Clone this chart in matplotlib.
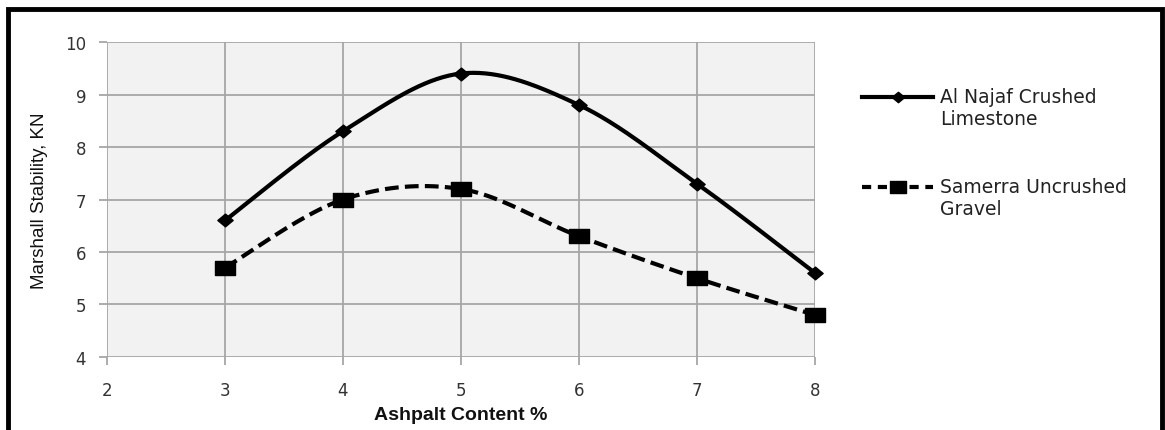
import numpy as np
import matplotlib
matplotlib.use("Agg")
import matplotlib.pyplot as plt
from matplotlib.patches import Rectangle
from matplotlib.lines import Line2D
from matplotlib.path import Path

asphalt = [3, 4, 5, 6, 7, 8]
najaf = [6.6, 8.3, 9.4, 8.8, 7.3, 5.6]
samerra = [5.7, 7.0, 7.2, 6.3, 5.5, 4.8]
labels = ["Al Najaf Crushed\nLimestone", "Samerra Uncrushed\nGravel"]
xticks = [2, 3, 4, 5, 6, 7, 8]
yticks = [4, 5, 6, 7, 8, 9, 10]


def smooth(x, y, n=40):
    """Excel-style smoothed line (Catmull-Rom Bezier, tension 1/6)."""
    x = np.asarray(x, float)
    y = np.asarray(y, float)
    P = np.column_stack([x, y])
    pts = []
    for i in range(len(P) - 1):
        p0 = P[i - 1] if i > 0 else P[i]
        p1 = P[i]
        p2 = P[i + 1]
        p3 = P[i + 2] if i + 2 < len(P) else P[i + 1]
        c1 = p1 + (p2 - p0) / 6.0
        c2 = p2 - (p3 - p1) / 6.0
        t = np.linspace(0, 1, n)[:, None]
        seg = ((1 - t) ** 3) * p1 + 3 * ((1 - t) ** 2) * t * c1 + 3 * (1 - t) * t ** 2 * c2 + t ** 3 * p2
        if i > 0:
            seg = seg[1:]
        pts.append(seg)
    pts = np.vstack(pts)
    return pts[:, 0], pts[:, 1]


# slightly wide markers (the original is horizontally stretched)
wide_sq = Path([(-1.35, -1), (1.35, -1), (1.35, 1), (-1.35, 1), (-1.35, -1)],
               [Path.MOVETO, Path.LINETO, Path.LINETO, Path.LINETO, Path.CLOSEPOLY])
wide_dm = Path([(-1.2, 0), (0, 1), (1.2, 0), (0, -1), (-1.2, 0)],
               [Path.MOVETO, Path.LINETO, Path.LINETO, Path.LINETO, Path.CLOSEPOLY])

LW = 3.0
DASH = (3.3, 1.5)

fig = plt.figure(figsize=(11.65, 4.31), dpi=100)
fig.patch.set_facecolor("white")
ax = fig.add_axes([0.0918, 0.1694, 0.6078, 0.7308])
ax.set_facecolor("#f2f2f2")

sx, sy = smooth(asphalt, najaf)
ax.plot(sx, sy, color="black", lw=LW, solid_capstyle="round", zorder=3)
ax.plot(asphalt, najaf, linestyle="none", marker=wide_dm, ms=11, color="black",
        clip_on=False, zorder=4)

sx2, sy2 = smooth(asphalt, samerra)
ax.plot(sx2, sy2, color="black", lw=LW, dashes=DASH, zorder=3)
ax.plot(asphalt, samerra, linestyle="none", marker=wide_sq, ms=13.7, color="black",
        clip_on=False, zorder=4)

ax.set_xlim(2, 8)
ax.set_ylim(4, 10)
ax.set_xticks(xticks)
ax.set_yticks(yticks)
ax.grid(True, color="#a6a6a6", lw=1.3)
ax.set_axisbelow(True)
for s in ax.spines.values():
    s.set_visible(False)
ax.tick_params(axis="both", length=6, width=1.3, color="#a6a6a6",
               labelsize=12, labelcolor="#333333")
ax.tick_params(axis="x", pad=11)
ax.tick_params(axis="y", pad=9)
for lab in ax.get_xticklabels() + ax.get_yticklabels():
    lab.set_family("DejaVu Sans")

ax.set_xlabel("Ashpalt Content %", fontsize=14, fontweight="bold",
              family=["Liberation Sans", "DejaVu Sans"], labelpad=5, color="#111111")
ax.set_ylabel("Marshall Stability, KN", fontsize=13.5,
              family=["Liberation Sans Narrow", "Liberation Sans", "DejaVu Sans"],
              labelpad=12, color="#111111")

h1 = Line2D([], [], color="black", lw=LW, marker=wide_dm, ms=9)
h2 = Line2D([], [], color="black", lw=LW, dashes=(2.2, 1.6), marker=wide_sq, ms=11)
leg = fig.legend([h1, h2], labels, loc="upper left", bbox_to_anchor=(0.740, 0.796),
                 frameon=False, handlelength=3.8, handletextpad=0.37,
                 borderpad=0, borderaxespad=0,
                 labelspacing=2.6, prop={"family": "DejaVu Sans", "size": 13.5})
for t in leg.get_texts():
    t.set_color("#222222")
# align each legend sample with the first line of its label
for ln in leg.findobj(Line2D):
    ln.set_ydata(np.asarray(ln.get_ydata(), float) + 8.1)

fig.patches.append(Rectangle((8 / 1165, -0.1), 1154 / 1165, 1.1 - 10 / 431,
                             transform=fig.transFigure, fill=False,
                             edgecolor="black", lw=3.5, zorder=10))

fig.savefig("out.png", dpi=100)
